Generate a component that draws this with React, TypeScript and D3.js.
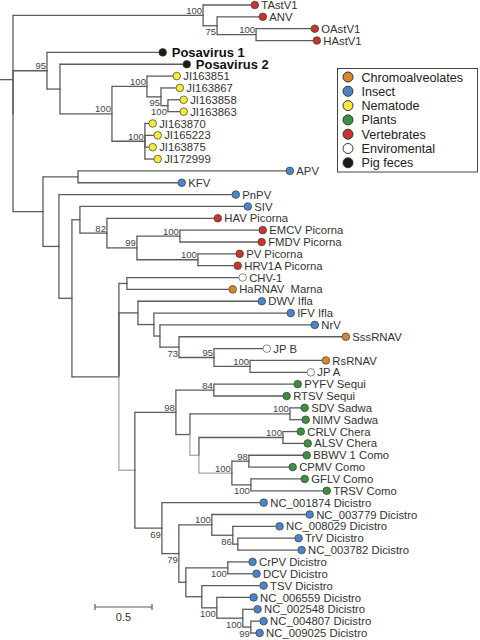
import React from "react";
import * as d3 from "d3";

// ---- Data ----
// [id, parent, branch length (subst./site), bootstrap support]
const treeRows: [string, string, number, number | null][] = [
  ["root", "", 0, null],
  ["astro", "root", 1.667, 100],
  ["TAstV1", "astro", 0.421, null],
  ["astro2", "astro", 0.123, 75],
  ["ANV", "astro2", 0.368, null],
  ["astro3", "astro2", 0.342, 100],
  ["OAstV1", "astro3", 0.482, null],
  ["HAstV1", "astro3", 0.5, null],
  ["posa", "root", 0.298, 95],
  ["Posavirus 1", "posa", 0.982, null],
  ["posa2", "posa", 0.114, null],
  ["Posavirus 2", "posa2", 1.079, null],
  ["nema", "posa2", 0.456, 100],
  ["nema1", "nema", 0.307, 100],
  ["JI163851", "nema1", 0.228, null],
  ["nema1a", "nema1", 0.123, 95],
  ["JI163867", "nema1a", 0.132, null],
  ["nema1b", "nema1a", 0.061, 100],
  ["JI163858", "nema1b", 0.105, null],
  ["JI163863", "nema1b", 0.105, null],
  ["nema2", "nema", 0.289, 100],
  ["JI163870", "nema2", 0.035, null],
  ["JI165223", "nema2", 0.079, null],
  ["JI163875", "nema2", 0.035, null],
  ["JI172999", "nema2", 0.079, null],
  ["A", "root", 0.263, null],
  ["apvkfv", "A", 0.307, null],
  ["APV", "apvkfv", 1.825, null],
  ["KFV", "apvkfv", 0.877, null],
  ["B", "A", 0.14, null],
  ["PnPV", "B", 1.518, null],
  ["C", "B", 0.114, null],
  ["D", "C", 0.07, null],
  ["SIV", "D", 1.439, null],
  ["F", "D", 0.237, 82],
  ["HAV Picorna", "F", 0.939, null],
  ["G", "F", 0.263, 99],
  ["H", "G", 0.377, 100],
  ["EMCV Picorna", "H", 0.693, null],
  ["FMDV Picorna", "H", 0.684, null],
  ["I", "G", 0.535, 100],
  ["PV Picorna", "I", 0.333, null],
  ["HRV1A Picorna", "I", 0.316, null],
  ["E", "C", 0.412, null],
  ["J", "E", 0.07, null],
  ["CHV-1", "J", 0.982, null],
  ["HaRNAV  Marna", "J", 0.895, null],
  ["K", "E", 0.167, null],
  ["DWV Ifla", "K", 1.053, null],
  ["M", "K", 0.14, null],
  ["IFV Ifla", "M", 1.167, null],
  ["N", "M", 0.053, null],
  ["NrV", "N", 1.325, null],
  ["O", "N", 0.167, 73],
  ["SssRNAV", "O", 1.43, null],
  ["P", "O", 0.307, 95],
  ["JP B", "P", 0.43, null],
  ["Q", "P", 0.316, 100],
  ["RsRNAV", "Q", 0.632, null],
  ["JP A", "Q", 0.5, null],
  ["L", "E", 0.14, null],
  ["R", "L", 0.36, 98],
  ["T", "R", 0.333, 84],
  ["PYFV Sequi", "T", 0.702, null],
  ["RTSV Sequi", "T", 0.605, null],
  ["U", "R", 0.123, null],
  ["V", "U", 0.877, 100],
  ["SDV Sadwa", "V", 0.096, null],
  ["NIMV Sadwa", "V", 0.105, null],
  ["W", "U", 0.079, null],
  ["X", "W", 0.737, 100],
  ["CRLV Chera", "X", 0.123, null],
  ["ALSV Chera", "X", 0.184, null],
  ["Y", "W", 0.289, 100],
  ["Z", "Y", 0.149, 98],
  ["BBWV 1 Como", "Z", 0.474, null],
  ["CPMV Como", "Z", 0.351, null],
  ["AA", "Y", 0.167, 100],
  ["GFLV Como", "AA", 0.439, null],
  ["TRSV Como", "AA", 0.632, null],
  ["S", "L", 0.237, 69],
  ["NC_001874 Dicistro", "S", 0.86, null],
  ["AB", "S", 0.149, 79],
  ["AC", "AB", 0.289, 100],
  ["NC_003779 Dicistro", "AC", 0.825, null],
  ["AE", "AC", 0.184, 86],
  ["NC_008029 Dicistro", "AE", 0.377, null],
  ["AF", "AE", 0.044, null],
  ["TrV Dicistro", "AF", 0.5, null],
  ["NC_003782 Dicistro", "AF", 0.526, null],
  ["AD", "AB", 0.061, null],
  ["AH", "AD", 0.368, 100],
  ["CrPV Dicistro", "AH", 0.184, null],
  ["DCV Dicistro", "AH", 0.219, null],
  ["AG", "AD", 0.14, null],
  ["TSV Dicistro", "AG", 0.509, null],
  ["AI", "AG", 0.132, 100],
  ["NC_006559 Dicistro", "AI", 0.289, null],
  ["AJ", "AI", 0.228, 100],
  ["NC_002548 Dicistro", "AJ", 0.096, null],
  ["AK", "AJ", 0.07, 99],
  ["NC_004807 Dicistro", "AK", 0.079, null],
  ["NC_009025 Dicistro", "AK", 0.044, null],
];

const legendGroups = [
  "Chromoalveolates",
  "Insect",
  "Nematode",
  "Plants",
  "Vertebrates",
  "Enviromental",
  "Pig feces",
];

const chromoalveolateTips = ["HaRNAV  Marna", "SssRNAV", "RsRNAV"];
const nematodeTips = [
  "JI163851", "JI163867", "JI163858", "JI163863",
  "JI163870", "JI165223", "JI163875", "JI172999",
];
const plantTips = [
  "PYFV Sequi", "RTSV Sequi", "SDV Sadwa", "NIMV Sadwa", "CRLV Chera",
  "ALSV Chera", "BBWV 1 Como", "CPMV Como", "GFLV Como", "TRSV Como",
];
const vertebrateTips = [
  "TAstV1", "ANV", "OAstV1", "HAstV1", "HAV Picorna", "EMCV Picorna",
  "FMDV Picorna", "PV Picorna", "HRV1A Picorna",
];
const environmentalTips = ["CHV-1", "JP B", "JP A"];
const pigFecesTips = ["Posavirus 1", "Posavirus 2"];
// all remaining tips are Insect

const scaleBarValue = 0.5;

// ---- Styles / layout ----
const groupColors: Record<string, string> = {
  Chromoalveolates: "#d8862c",
  Insect: "#4a86c6",
  Nematode: "#f7ea3a",
  Plants: "#3d8f42",
  Vertebrates: "#c9342c",
  Enviromental: "#ffffff",
  "Pig feces": "#1a1a1a",
};
const supportBelow = new Set(["astro2", "nema1a", "nema1b", "O", "AA", "S", "AB", "AE", "AH", "AI", "AJ", "AK"]);
const lightBranches = new Set(["L", "W", "Y"]);

const FONT = "'Liberation Sans', Arial, Helvetica, sans-serif";

function groupOf(tip: string): string {
  if (chromoalveolateTips.includes(tip)) return "Chromoalveolates";
  if (nematodeTips.includes(tip)) return "Nematode";
  if (plantTips.includes(tip)) return "Plants";
  if (vertebrateTips.includes(tip)) return "Vertebrates";
  if (environmentalTips.includes(tip)) return "Enviromental";
  if (pigFecesTips.includes(tip)) return "Pig feces";
  return "Insect";
}

export default function App() {
  const width = 480;
  const height = 640;

  const rows = treeRows.map(([id, parent, length, support]) => ({ id, parent, length, support }));
  const root: any = d3
    .stratify<any>()
    .id((d: any) => d.id)
    .parentId((d: any) => (d.parent ? d.parent : null))(rows);

  const xScale = d3.scaleLinear().domain([0, 1]).range([13, 127]);
  const leaves = root.leaves();
  const yScale = d3.scaleLinear().domain([0, leaves.length - 1]).range([5, 633]);

  root.eachBefore((n: any) => {
    n.dist = n.parent ? n.parent.dist + n.data.length : 0;
    n.px = xScale(n.dist);
  });
  leaves.forEach((l: any, i: number) => (l.py = yScale(i)));
  root.eachAfter((n: any) => {
    if (n.children) n.py = (n.children[0].py + n.children[n.children.length - 1].py) / 2;
  });

  const nodes: any[] = root.descendants();
  const dark = "#5c5c5c";
  const light = "#a8a8a8";
  const rootStubY = yScale(6.3);

  const r = 3.8;

  const legendX = 337.5;
  const legendY = 68.5;
  const legendRow = 14.3;

  const barX0 = 95;
  const barY = 607;
  const barX1 = barX0 + (xScale(scaleBarValue) - xScale(0));

  return (
    <div style={{ position: "absolute", left: 0, top: 0 }}>
      <svg width={width} height={height} style={{ display: "block", background: "#fff" }}>
        {/* root stub */}
        <line x1={0} x2={root.px} y1={rootStubY} y2={rootStubY} stroke={dark} strokeWidth={1.3} />
        {/* branches */}
        {nodes
          .filter((n) => n.parent)
          .map((n) => {
            const c = lightBranches.has(n.id) ? light : dark;
            return (
              <g key={"b" + n.id}>
                <line x1={n.parent.px} x2={n.parent.px} y1={n.parent.py} y2={n.py} stroke={c} strokeWidth={1.3} strokeLinecap="square" />
                <line x1={n.parent.px} x2={n.px} y1={n.py} y2={n.py} stroke={c} strokeWidth={1.3} />
              </g>
            );
          })}
        {/* bootstrap values */}
        {nodes
          .filter((n) => n.data.support != null)
          .map((n) => (
            <text
              key={"s" + n.id}
              x={n.px - 1}
              y={supportBelow.has(n.id) ? n.py + 9.5 : n.py - 1.5}
              textAnchor="end"
              fontFamily={FONT}
              fontSize={9.5}
              fill="#444"
            >
              {n.data.support}
            </text>
          ))}
        {/* tips */}
        {leaves.map((l: any) => {
          const g = groupOf(l.id);
          const pig = g === "Pig feces";
          return (
            <g key={"t" + l.id}>
              <circle
                cx={l.px + r}
                cy={l.py}
                r={r}
                fill={groupColors[g]}
                stroke={g === "Enviromental" ? "#555" : "#3a3a3a"}
                strokeWidth={0.7}
              />
              <text
                x={l.px + r + (pig ? 9 : 6.5)}
                y={l.py}
                dy="0.36em"
                fontFamily={FONT}
                fontSize={pig ? 13 : 11.3}
                fontWeight={pig ? "bold" : "normal"}
                fill={pig ? "#111" : "#333"}
                style={{ whiteSpace: "pre" }}
              >
                {l.id}
              </text>
            </g>
          );
        })}
        {/* legend */}
        <rect x={legendX} y={legendY} width={140} height={103.5} fill="#fff" stroke="#444" strokeWidth={1} />
        {legendGroups.map((g, i) => (
          <g key={"lg" + g}>
            <circle cx={legendX + 10.5} cy={legendY + 8.5 + i * legendRow} r={5} fill={groupColors[g]} stroke="#333" strokeWidth={1} />
            <text
              x={legendX + 24}
              y={legendY + 8.5 + i * legendRow}
              dy="0.36em"
              fontFamily={FONT}
              fontSize={12.6}
              fill="#222"
            >
              {g}
            </text>
          </g>
        ))}
        {/* scale bar */}
        <line x1={barX0} x2={barX1} y1={barY} y2={barY} stroke={dark} strokeWidth={1.2} />
        <line x1={barX0} x2={barX0} y1={barY - 3} y2={barY + 3} stroke={dark} strokeWidth={1.2} />
        <line x1={barX1} x2={barX1} y1={barY - 3} y2={barY + 3} stroke={dark} strokeWidth={1.2} />
        <text x={(barX0 + barX1) / 2} y={barY + 14} textAnchor="middle" fontFamily={FONT} fontSize={11} fill="#333">
          {scaleBarValue}
        </text>
      </svg>
    </div>
  );
}
